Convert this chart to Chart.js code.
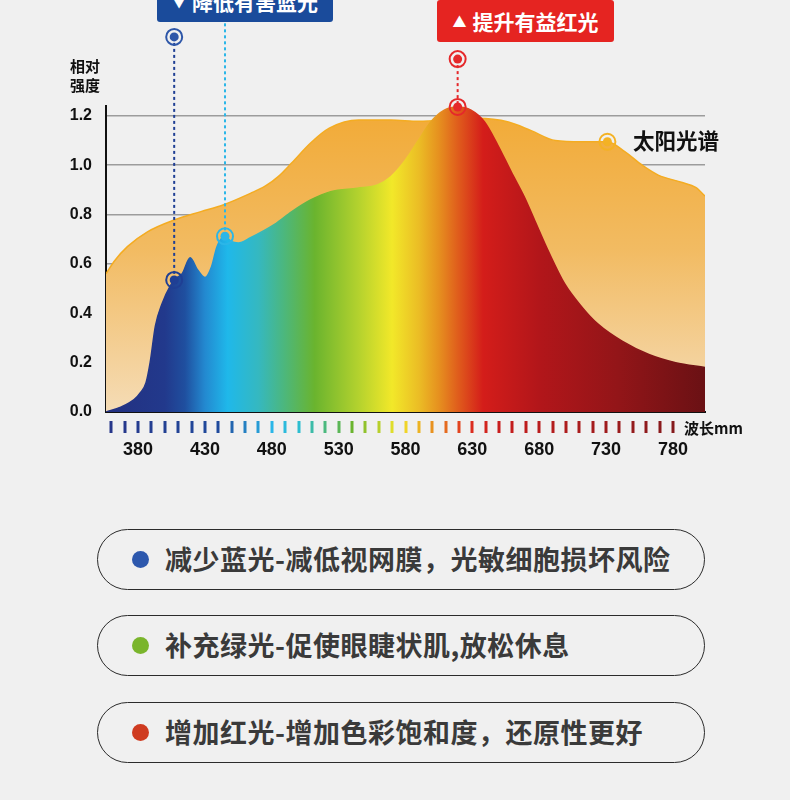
<!DOCTYPE html>
<html>
<head>
<meta charset="utf-8">
<script src="https://cdn.jsdelivr.net/npm/chart.js@4.4.1/dist/chart.umd.min.js"></script>
<style>
  body { margin: 0; background: #f0f0f0; font-family: 'Noto Sans CJK SC', sans-serif; }
  #wrap { position: relative; width: 790px; height: 800px; overflow: hidden; }
  #chartBox { position: absolute; left: 0; top: 0; width: 790px; height: 480px; }
  .tag { position: absolute; height: 42px; line-height: 42px; color: #fff; font-weight: bold;
         font-size: 21px; text-align: center; border-radius: 3px; white-space: nowrap; }
  .tag span { font-size: 14px; vertical-align: 3px; margin-right: 6px; }
  .lbl { position: absolute; color: #111; font-weight: bold; white-space: nowrap; }
  .pill { position: absolute; left: 97px; width: 606px; height: 59px; border: 1.5px solid #2b2b2b;
          border-radius: 31px; }
  .pill i { position: absolute; left: 34px; top: 21px; width: 17px; height: 17px; border-radius: 50%; }
  .pill b { position: absolute; left: 67px; top: 0; line-height: 58px; font-size: 27px; letter-spacing: 0.5px;
            color: #3a3a3a; white-space: nowrap; }
</style>
</head>
<body>
<div id="wrap">
  <div id="chartBox"><canvas id="myChart"></canvas></div>

  <div class="tag" style="left:157px;top:-20px;width:176px;background:#1a4b9b;"><span>▼</span>降低有害蓝光</div>
  <div class="tag" style="left:437px;top:0;width:177px;background:#e52421;"><span>▲</span>提升有益红光</div>

  <div class="lbl" style="left:70px;top:56px;font-size:15px;line-height:19px;">相对<br>强度</div>
  <div class="lbl" style="left:633px;top:124px;font-size:21.5px;line-height:32px;">太阳光谱</div>
  <div class="lbl" style="left:684px;top:417px;font-size:15px;line-height:22px;">波长mm</div>

  <div class="pill" style="top:529px;"><i style="background:#2d58ad"></i><b>减少蓝光-减低视网膜，光敏细胞损坏风险</b></div>
  <div class="pill" style="top:615px;"><i style="background:#7ab52c"></i><b>补充绿光-促使眼睫状肌,放松休息</b></div>
  <div class="pill" style="top:702px;"><i style="background:#cf3b20"></i><b>增加红光-增加色彩饱和度，还原性更好</b></div>
</div>

<script>
// Dados
const sunNm  = [356, 362, 372, 387, 407, 427, 444, 464, 475, 485, 495, 509, 523, 545, 569, 590, 610, 634, 657, 674, 692, 712, 731, 744, 757, 769, 787, 797, 804];
const sunVal = [0.56, 0.61, 0.67, 0.73, 0.778, 0.812, 0.84, 0.886, 0.915, 0.955, 1.01, 1.09, 1.15, 1.183, 1.183, 1.178, 1.182, 1.19, 1.175, 1.14, 1.10, 1.095, 1.095, 1.055, 1.0, 0.96, 0.93, 0.91, 0.875];

const ledNm  = [356, 367, 377, 382, 386, 389, 393, 398, 404, 408, 413, 419, 424, 430, 435, 439, 445, 450, 455, 464, 482, 495, 509, 524, 544, 559, 569, 579, 589, 599, 609, 619, 629, 639, 649, 659, 669, 677, 687, 699, 712, 724, 742, 762, 782, 804];
const ledVal = [0.0, 0.02, 0.05, 0.08, 0.12, 0.2, 0.35, 0.44, 0.51, 0.54, 0.56, 0.625, 0.58, 0.545, 0.59, 0.67, 0.712, 0.69, 0.685, 0.706, 0.76, 0.812, 0.859, 0.893, 0.907, 0.92, 0.953, 1.014, 1.095, 1.176, 1.223, 1.236, 1.223, 1.176, 1.082, 0.974, 0.87, 0.772, 0.65, 0.52, 0.425, 0.356, 0.287, 0.233, 0.2, 0.18];

const xLabels = [380, 430, 480, 530, 580, 630, 680, 730, 780];
const yLabels = [0, 0.2, 0.4, 0.6, 0.8, 1.0, 1.2];

// Cores do espectro (preenchimento) e das marcas do eixo
const fillStopNm    = [356, 400, 415, 430, 447, 470, 490, 512, 545, 570, 590, 605, 620, 638, 680, 740, 804];
const fillStopColor = ['#233080', '#22398c', '#1f4f9f', '#2389d0', '#1fb8ea', '#35b8c0', '#4db77a', '#6ab42e', '#b4d22e', '#f2e829', '#ebbd25', '#e6901f', '#df5a1c', '#d41d1a', '#b2161a', '#921518', '#6a1114'];
const tickStopNm    = [360, 440, 480, 500, 540, 575, 600, 625, 650, 780];
const tickStopColor = ['#27378a', '#1f4a9c', '#2ab6e8', '#2dbdd0', '#6ab42e', '#f2e42a', '#e8921f', '#e0301f', '#c81d1d', '#851a1c'];
const tickNm = [];
for (let v = 360; v <= 780; v += 10) tickNm.push(v);

// Marcadores: [nm, valor no ponto, valor no topo da linha pontilhada, cor]
const markerNm    = [407, 445, 619, 731];
const markerVal   = [0.535, 0.712, 1.236, 1.095];
const markerTop   = [1.52, 1.575, 1.43, null];
const markerColor = ['#1f3f94', '#2bb6e8', '#e5282a', '#f4b224'];

function hexToRgb(h) {
    return [parseInt(h.slice(1, 3), 16), parseInt(h.slice(3, 5), 16), parseInt(h.slice(5, 7), 16)];
}
function colorAt(nm, stops, colors) {
    if (nm <= stops[0]) return colors[0];
    for (let i = 1; i < stops.length; i++) {
        if (nm <= stops[i]) {
            const t = (nm - stops[i - 1]) / (stops[i] - stops[i - 1]);
            const a = hexToRgb(colors[i - 1]), b = hexToRgb(colors[i]);
            const c = a.map((v, k) => Math.round(v + (b[k] - v) * t));
            return `rgb(${c[0]},${c[1]},${c[2]})`;
        }
    }
    return colors[colors.length - 1];
}

function spectrumGradient(context) {
    const chart = context.chart;
    if (!chart.chartArea) return '#1fb8ea';
    const x = chart.scales.x;
    const x0 = x.getPixelForValue(fillStopNm[0]);
    const x1 = x.getPixelForValue(fillStopNm[fillStopNm.length - 1]);
    const g = chart.ctx.createLinearGradient(x0, 0, x1, 0);
    fillStopNm.forEach((nm, i) => {
        g.addColorStop((x.getPixelForValue(nm) - x0) / (x1 - x0), fillStopColor[i]);
    });
    return g;
}

function sunGradient(context) {
    const chart = context.chart;
    if (!chart.chartArea) return '#f2b04a';
    const y = chart.scales.y;
    const g = chart.ctx.createLinearGradient(0, y.getPixelForValue(1.2), 0, y.getPixelForValue(0));
    g.addColorStop(0, '#f2ab38');
    g.addColorStop(0.45, '#f2bb62');
    g.addColorStop(1, '#f5dcb6');
    return g;
}

// Plugin: marcas coloridas do eixo x e marcadores
const decorPlugin = {
    id: 'decor',
    afterDatasetsDraw(chart) {
        const ctx = chart.ctx;
        const x = chart.scales.x, y = chart.scales.y;
        const bottom = chart.chartArea.bottom;
        ctx.save();
        tickNm.forEach(nm => {
            ctx.fillStyle = colorAt(nm, tickStopNm, tickStopColor);
            ctx.fillRect(Math.round(x.getPixelForValue(nm)) - 1.5, bottom + 9, 3, 12);
        });
        markerNm.forEach((nm, i) => {
            const px = x.getPixelForValue(nm);
            const py = y.getPixelForValue(markerVal[i]);
            ctx.strokeStyle = markerColor[i];
            ctx.fillStyle = markerColor[i];
            if (markerTop[i] !== null) {
                const ty = y.getPixelForValue(markerTop[i]);
                ctx.setLineDash([3, 3]);
                ctx.lineWidth = 2;
                ctx.beginPath();
                ctx.moveTo(px, ty);
                ctx.lineTo(px, py);
                ctx.stroke();
                ctx.setLineDash([]);
                if (i !== 1) drawRing(ctx, px, ty, i === 0 ? '#2d56a8' : markerColor[i]);
            }
            drawRing(ctx, px, py, markerColor[i]);
        });
        ctx.restore();
    }
};
function drawRing(ctx, px, py, color) {
    ctx.strokeStyle = color;
    ctx.fillStyle = color;
    ctx.lineWidth = 2;
    ctx.beginPath();
    ctx.arc(px, py, 8, 0, Math.PI * 2);
    ctx.stroke();
    ctx.beginPath();
    ctx.arc(px, py, 4.5, 0, Math.PI * 2);
    ctx.fill();
}

const ctx = document.getElementById('myChart').getContext('2d');
new Chart(ctx, {
    type: 'line',
    data: {
        datasets: [{
            label: 'LED',
            data: ledNm.map((v, i) => ({ x: v, y: ledVal[i] })),
            backgroundColor: spectrumGradient,
            borderColor: spectrumGradient,
            borderWidth: 1.5,
            fill: 'origin',
            pointRadius: 0,
            cubicInterpolationMode: 'monotone',
            order: 0
        }, {
            label: '太阳光谱',
            data: sunNm.map((v, i) => ({ x: v, y: sunVal[i] })),
            backgroundColor: sunGradient,
            borderColor: '#f4ac22',
            borderWidth: 1.5,
            fill: 'origin',
            pointRadius: 0,
            cubicInterpolationMode: 'monotone',
            order: 1
        }]
    },
    options: {
        responsive: true,
        maintainAspectRatio: false,
        animation: false,
        layout: { padding: { left: 0, top: 106, right: 85, bottom: 0 } },
        plugins: { legend: { display: false }, tooltip: { enabled: false } },
        scales: {
            x: {
                type: 'linear',
                min: 356,
                max: 804,
                afterBuildTicks: scale => { scale.ticks = xLabels.map(v => ({ value: v })); },
                afterFit: scale => { scale.height = 68; },
                grid: { display: false, drawTicks: false },
                border: { color: '#111', width: 2 },
                ticks: {
                    padding: 27,
                    color: '#111',
                    autoSkip: false,
                    maxRotation: 0,
                    font: { family: "'Liberation Sans', Arial, sans-serif", size: 18, weight: 'bold' }
                }
            },
            y: {
                min: 0,
                max: 1.24,
                afterBuildTicks: scale => { scale.ticks = yLabels.map(v => ({ value: v })); },
                afterFit: scale => { scale.width = 106; },
                grid: { color: '#9c9c9c', lineWidth: 1.5, drawTicks: false },
                border: { color: '#111', width: 2 },
                ticks: {
                    padding: 14,
                    color: '#111',
                    callback: v => v.toFixed(1),
                    font: { family: "'Liberation Sans', Arial, sans-serif", size: 16, weight: 'bold' }
                }
            }
        }
    },
    plugins: [decorPlugin]
});
</script>
</body>
</html>
